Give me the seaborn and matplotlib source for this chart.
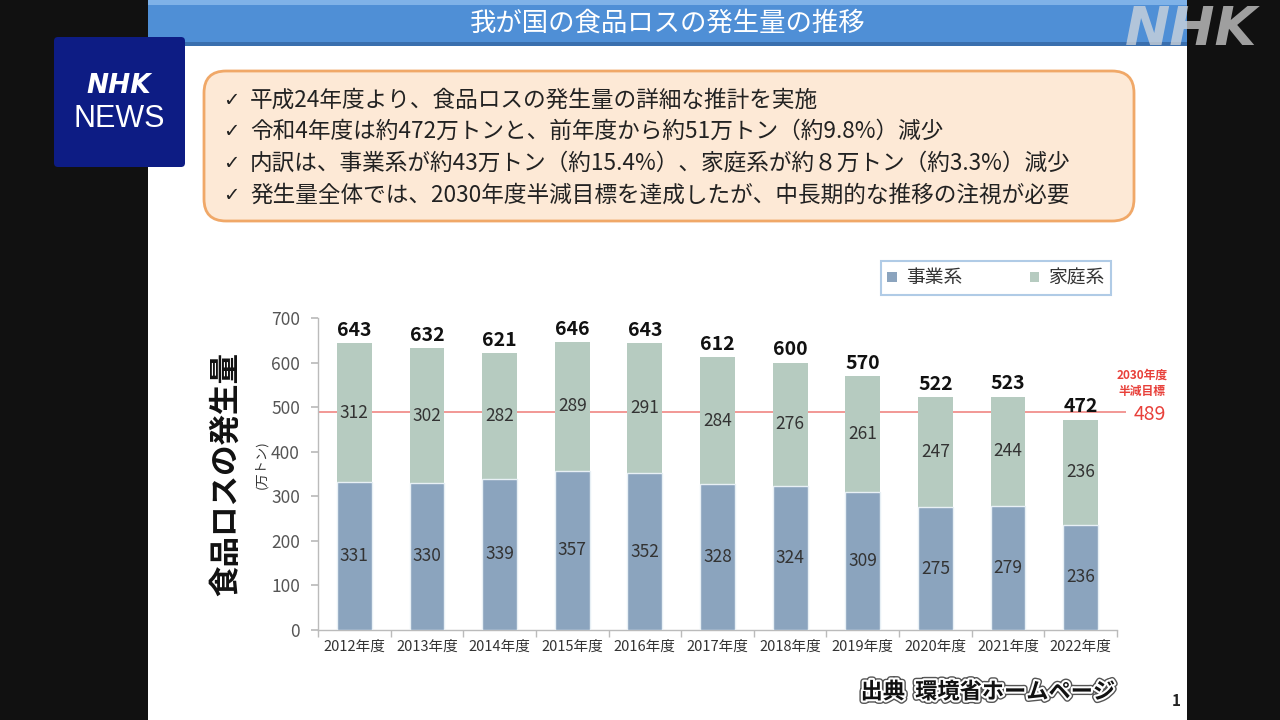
import matplotlib
matplotlib.use("Agg")
import matplotlib.pyplot as plt
import matplotlib.patheffects as pe
from matplotlib.patches import Rectangle, FancyBboxPatch, Patch
import seaborn as sns
import pandas as pd

# ---------------- data ----------------
years = ["2012年度", "2013年度", "2014年度", "2015年度", "2016年度", "2017年度",
         "2018年度", "2019年度", "2020年度", "2021年度", "2022年度"]
business = [331, 330, 339, 357, 352, 328, 324, 309, 275, 279, 236]   # 事業系
household = [312, 302, 282, 289, 291, 284, 276, 261, 247, 244, 236]  # 家庭系
totals = [643, 632, 621, 646, 643, 612, 600, 570, 522, 523, 472]
target = 489
yticks = [0, 100, 200, 300, 400, 500, 600, 700]

title = "我が国の食品ロスの発生量の推移"
bullets = [
    "平成24年度より、食品ロスの発生量の詳細な推計を実施",
    "令和4年度は約472万トンと、前年度から約51万トン（約9.8%）減少",
    "内訳は、事業系が約43万トン（約15.4%）、家庭系が約８万トン（約3.3%）減少",
    "発生量全体では、2030年度半減目標を達成したが、中長期的な推移の注視が必要",
]

C_BUS = "#8ba4be"
C_HOME = "#b6cbc0"
C_RED = "#e8403a"

sns.set_theme(style="white")
plt.rcParams["font.family"] = ["Noto Sans CJK JP", "DejaVu Sans"]

W, H = 1280, 720
fig = plt.figure(figsize=(12.8, 7.2), dpi=100, facecolor="#111111")

# background / decoration axes in pixel coordinates
bg = fig.add_axes([0, 0, 1, 1])
bg.set_xlim(0, W)
bg.set_ylim(H, 0)
bg.axis("off")
bg.set_zorder(0)

# slide
bg.add_patch(Rectangle((148, 0), 1039, 720, facecolor="white", edgecolor="none"))
# title bar
bg.add_patch(Rectangle((148, 0), 1039, 46, facecolor="#4f8fd6", edgecolor="none"))
bg.add_patch(Rectangle((148, 0), 1039, 5, facecolor="#7fb2e8", edgecolor="none"))
bg.add_patch(Rectangle((148, 42), 1039, 4, facecolor="#3a6fae", edgecolor="none"))
bg.text(668, 23, title, color="white", fontsize=19, ha="center", va="center")

# NHK watermark
bg.text(1191, 30, "NHK", color="#dddddd", alpha=0.7, fontsize=39, fontweight="bold",
        fontstyle="italic", family="DejaVu Sans", ha="center", va="center")

# NHK NEWS logo
bg.add_patch(FancyBboxPatch((54, 37), 131, 130, boxstyle="round,pad=0,rounding_size=4",
                            facecolor="#0d1c84", edgecolor="none"))
bg.text(119, 86, "NHK", color="white", fontsize=19, fontweight="bold", fontstyle="italic",
        family="DejaVu Sans", ha="center", va="center")
bg.text(119, 119, "NEWS", color="white", fontsize=22, family="Liberation Sans",
        ha="center", va="center")

# orange box
bg.add_patch(FancyBboxPatch((204, 71), 930, 150, boxstyle="round,pad=0,rounding_size=22",
                            facecolor="#fde9d6", edgecolor="#f0a868", linewidth=2))
for i, line in enumerate(bullets):
    y = 100 + i * 31.7
    bg.text(223, y, "✓", fontsize=14, color="#222222", ha="left", va="center",
            family="DejaVu Sans")
    bg.text(250, y, line, fontsize=16.3, color="#222222", ha="left", va="center")

# y label
bg.text(226, 474, "食品ロスの発生量", rotation=90, fontsize=22, fontweight="bold",
        color="#111111", ha="center", va="center")
bg.text(262, 465, "(万トン)", rotation=90, fontsize=9.5, color="#333333",
        ha="center", va="center")

# target label
bg.text(1142, 383, "2030年度\n半減目標", color=C_RED, fontsize=8.5, fontweight="bold",
        ha="center", va="center", linespacing=1.3)
bg.text(1150, 414, str(target), color=C_RED, fontsize=14, ha="center", va="center")

# source
bg.text(988, 692, "出典  環境省ホームページ", fontsize=16, fontweight="bold", color="#111111",
        ha="center", va="center",
        path_effects=[pe.Stroke(linewidth=5, foreground="#555555"),
                      pe.Stroke(linewidth=3, foreground="white"), pe.Normal()])
bg.text(1176, 701, "1", fontsize=11, fontweight="bold", color="#222222",
        ha="center", va="center")

# ---------------- chart ----------------
left, right, bottom_px, top_px = 318, 1117, 630, 318
ax = fig.add_axes([left / W, 1 - bottom_px / H, (right - left) / W, (bottom_px - top_px) / H])
ax.set_zorder(2)
ax.patch.set_alpha(0)

df = pd.DataFrame({"year": years, "business": business, "household": household, "total": totals})

ax.hlines(target, -0.5, 10.62, color="#f08683", linewidth=1.2, zorder=1, clip_on=False)
sns.barplot(data=df, x="year", y="total", color=C_HOME, saturation=1, width=0.48,
            ax=ax, zorder=3, linewidth=0)
sns.barplot(data=df, x="year", y="business", color=C_BUS, saturation=1, width=0.48,
            ax=ax, zorder=4, edgecolor="#e8f0f5", linewidth=1)

for i in range(len(years)):
    b, h, t = business[i], household[i], totals[i]
    ax.text(i, b / 2, str(b), ha="center", va="center", fontsize=12.5, color="#333333", zorder=5)
    ax.text(i, b + h / 2, str(h), ha="center", va="center", fontsize=12.5, color="#333333", zorder=5)
    ax.text(i, t + 29, str(t), ha="center", va="center", fontsize=14, fontweight="bold",
            color="#111111", zorder=5)

ax.set_xlim(-0.5, 10.5)
ax.set_ylim(0, 700)
ax.set_yticks(yticks)
ax.set_yticklabels([str(v) for v in yticks], fontsize=12.5, color="#555555")
ax.set_xticks(range(len(years)))
ax.set_xticklabels(years, fontsize=10.5, color="#333333")
ax.set_xticks([i - 0.5 for i in range(len(years) + 1)], minor=True)
ax.tick_params(axis="x", which="major", length=0, pad=7)
ax.tick_params(axis="x", which="minor", length=5, color="#bbbbbb", direction="out", bottom=True)
ax.tick_params(axis="y", length=5, color="#bbbbbb", direction="out", left=True, pad=8)
ax.set_xlabel("")
ax.set_ylabel("")
for s in ["top", "right"]:
    ax.spines[s].set_visible(False)
for s in ["left", "bottom"]:
    ax.spines[s].set_color("#bbbbbb")
    ax.spines[s].set_linewidth(1)

# legend
handles = [Patch(facecolor=C_BUS, edgecolor="none"), Patch(facecolor=C_HOME, edgecolor="none")]
leg = fig.legend(handles, ["事業系", "家庭系"], loc="center", ncol=2,
                 bbox_to_anchor=(996 / W, 1 - 278 / H), frameon=True, fancybox=False,
                 edgecolor="#9dbfe0", fontsize=13.5, handlelength=0.5, handleheight=0.5,
                 handletextpad=0.5, columnspacing=3.6, borderpad=0.35, borderaxespad=0)
leg.get_frame().set_linewidth(1.5)
for t in leg.get_texts():
    t.set_color("#333333")

fig.savefig("out.png", dpi=100, facecolor=fig.get_facecolor())
